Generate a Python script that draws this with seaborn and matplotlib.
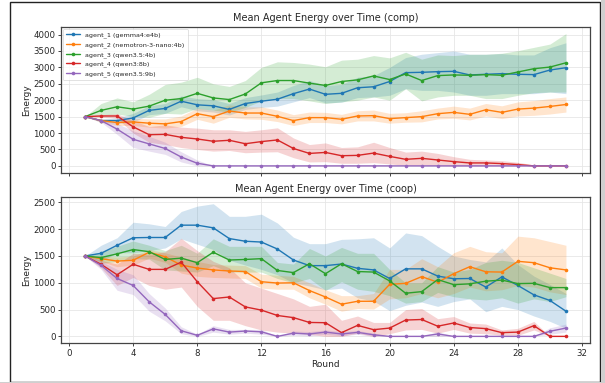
import numpy as np
import pandas as pd
import matplotlib
matplotlib.use("Agg")
import matplotlib.pyplot as plt
import seaborn as sns
from matplotlib.patches import Rectangle
from matplotlib.ticker import MultipleLocator

rounds = list(range(1, 32))
agents = ["agent_1 (gemma4:e4b)", "agent_2 (nemotron-3-nano:4b)", "agent_3 (qwen3.5:4b)",
          "agent_4 (qwen3:8b)", "agent_5 (qwen3.5:9b)"]

# ---------- comp ----------
comp_a1 = [1500,1380,1380,1460,1690,1750,1970,1860,1830,1720,1900,1970,2030,2200,2340,2180,2210,2380,2410,2570,2840,2850,2870,2880,2770,2790,2810,2790,2780,2920,2990]
comp_a1_lo = [1500,1340,1300,1330,1560,1600,1800,1680,1640,1550,1720,1780,1820,1950,2080,1920,1940,2080,2100,2150,2350,2300,2300,2250,2150,2150,2200,2200,2200,2250,2200]
comp_a1_hi = [1500,1420,1460,1600,1830,1900,2130,2050,2020,1900,2080,2160,2250,2450,2600,2450,2480,2700,2750,3000,3300,3400,3450,3500,3400,3400,3420,3380,3380,3600,3750]

comp_a2 = [1500,1380,1320,1340,1300,1280,1350,1590,1500,1670,1610,1610,1510,1380,1470,1470,1420,1520,1530,1440,1470,1500,1590,1630,1570,1710,1630,1730,1760,1810,1870]
comp_a2_lo = [1500,1330,1230,1230,1180,1150,1200,1420,1300,1480,1430,1420,1350,1230,1320,1320,1280,1370,1370,1300,1330,1340,1430,1450,1400,1520,1440,1520,1540,1580,1640]
comp_a2_hi = [1500,1430,1400,1450,1430,1430,1520,1760,1700,1860,1800,1800,1700,1560,1640,1630,1570,1680,1700,1600,1620,1680,1760,1820,1760,1900,1830,1950,1990,2050,2100]

comp_a3 = [1500,1690,1800,1730,1820,2000,2050,2210,2070,2020,2190,2530,2600,2600,2520,2450,2570,2620,2740,2630,2800,2600,2750,2770,2760,2780,2760,2860,2960,3010,3140]
comp_a3_lo = [1500,1550,1580,1500,1480,1600,1580,1750,1700,1640,1780,1980,2050,2050,1980,1900,1950,2000,2100,2000,2350,1980,2100,2150,2150,2050,2050,2150,2230,2250,2250]
comp_a3_hi = [1500,1900,2070,1950,2180,2480,2550,2700,2500,2420,2600,3000,3170,3150,3100,3020,3220,3250,3360,3290,3460,3250,3380,3360,3400,3400,3430,3510,3610,3710,4030]

comp_a4 = [1500,1520,1520,1190,950,960,870,820,750,780,675,740,790,530,380,410,310,320,390,290,200,230,180,130,90,90,70,40,0,0,0]
comp_a4_lo = [1500,1480,1450,1000,720,650,560,500,450,470,400,420,430,250,120,130,80,80,100,60,20,20,10,0,0,0,0,0,0,0,0]
comp_a4_hi = [1500,1560,1590,1380,1200,1250,1180,1150,1100,1100,1050,1100,1160,850,650,700,560,580,720,560,420,450,380,280,200,180,160,110,30,0,0]

comp_a5 = [1500,1380,1120,810,670,530,270,80] + [0] * 23
comp_a5_lo = [1500,1330,960,560,450,350,120,0] + [0] * 23
comp_a5_hi = [1500,1420,1290,1070,900,720,430,180] + [0] * 23

# ---------- coop ----------
coop_a1 = [1500,1550,1700,1840,1845,1845,2075,2075,2025,1825,1775,1760,1630,1425,1320,1320,1350,1270,1240,1080,1260,1260,1125,1075,1080,920,1110,950,775,670,470]
coop_a1_lo = [1500,1400,1560,1560,1600,1650,1820,1720,1620,1420,1330,1250,1150,1000,940,870,900,720,660,480,580,640,560,650,700,460,560,500,380,280,150]
coop_a1_hi = [1500,1700,1840,2130,2100,2050,2330,2430,2475,2240,2240,2280,2115,1850,1730,1730,1810,1820,1840,1650,1930,1880,1680,1500,1435,1390,1650,1340,1125,970,800]

coop_a2 = [1500,1450,1405,1420,1570,1485,1330,1275,1240,1220,1210,1020,995,1000,855,735,600,655,655,970,990,1115,1010,1170,1300,1205,1200,1400,1375,1280,1240]
coop_a2_lo = [1500,1400,1300,1330,1460,1380,1180,1120,1100,1090,1080,900,880,880,720,600,470,520,510,700,720,800,720,800,920,850,870,950,920,830,780]
coop_a2_hi = [1500,1500,1480,1500,1620,1560,1480,1400,1340,1330,1320,1160,1140,1120,1000,870,760,760,800,1250,1250,1450,1300,1560,1680,1580,1560,1870,1840,1770,1700]

coop_a3 = [1500,1470,1540,1620,1580,1435,1460,1375,1570,1425,1435,1450,1230,1190,1355,1170,1355,1210,1200,1035,805,835,1060,965,980,1030,1050,985,990,910,910]
coop_a3_lo = [1500,1360,1400,1450,1440,1240,1220,1200,1320,1200,1200,1200,1080,1000,1080,860,1020,880,840,760,620,650,820,740,700,680,720,620,700,650,740]
coop_a3_hi = [1500,1580,1680,1780,1700,1600,1700,1550,1820,1680,1680,1680,1380,1350,1640,1500,1660,1550,1550,1250,1000,1000,1300,1200,1250,1380,1420,1380,1280,1180,1080]

coop_a4 = [1500,1345,1150,1345,1250,1250,1385,1020,705,735,550,490,390,350,260,255,70,205,125,155,305,315,190,250,165,145,70,80,200,0,0]
coop_a4_lo = [1500,1280,950,1100,950,880,920,560,300,300,200,120,80,60,40,0,0,60,0,50,120,130,60,130,60,50,20,20,120,0,0]
coop_a4_hi = [1500,1420,1350,1550,1530,1580,1830,1600,1400,1280,1000,900,800,700,560,600,300,380,260,260,500,520,330,370,250,230,120,150,280,0,0]

coop_a5 = [1500,1325,1080,950,645,410,105,20,140,80,100,85,0,60,45,80,45,75,30,0,0,0,45,0,0,0,0,0,0,95,155]
coop_a5_lo = [1500,1250,860,780,470,290,50,0,80,40,60,40,0,20,10,40,10,40,0,0,0,0,0,0,0,0,0,0,0,40,80]
coop_a5_hi = [1500,1400,1250,1150,800,530,180,40,200,130,130,130,0,100,90,120,90,110,60,0,0,0,90,0,0,0,0,0,0,160,230]

comp = [(comp_a1, comp_a1_lo, comp_a1_hi), (comp_a2, comp_a2_lo, comp_a2_hi),
        (comp_a3, comp_a3_lo, comp_a3_hi), (comp_a4, comp_a4_lo, comp_a4_hi),
        (comp_a5, comp_a5_lo, comp_a5_hi)]
coop = [(coop_a1, coop_a1_lo, coop_a1_hi), (coop_a2, coop_a2_lo, coop_a2_hi),
        (coop_a3, coop_a3_lo, coop_a3_hi), (coop_a4, coop_a4_lo, coop_a4_hi),
        (coop_a5, coop_a5_lo, coop_a5_hi)]

sns.set_theme(style="ticks")
plt.rcParams['font.family'] = ['DejaVu Sans']

palette = sns.color_palette("tab10", 5)

fig = plt.figure(figsize=(6.05, 3.83), dpi=100)
ax1 = fig.add_axes([0.1008, 0.5496, 0.8744, 0.380])
ax2 = fig.add_axes([0.1008, 0.1044, 0.8744, 0.381], sharex=ax1)


def draw(ax, data, title, legend):
    rows = []
    for name, (m, lo, hi) in zip(agents, data):
        for r, v in zip(rounds, m):
            rows.append({"Round": r, "Energy": v, "Agent": name})
    df = pd.DataFrame(rows)
    sns.lineplot(data=df, x="Round", y="Energy", hue="Agent", palette=palette,
                 marker="o", markersize=2.6, markeredgewidth=0, linewidth=1.0,
                 errorbar=None, ax=ax, legend=legend)
    for c, (m, lo, hi) in zip(palette, data):
        ax.fill_between(rounds, lo, hi, color=c, alpha=0.2, linewidth=0)
    ax.set_title(title, fontsize=7, pad=4)
    ax.set_ylabel("Energy", fontsize=6.5, labelpad=2)
    ax.grid(True, color="#e6e6e6", linewidth=0.6)
    ax.set_axisbelow(True)
    for s in ax.spines.values():
        s.set_color("#444444")
        s.set_linewidth(0.9)
    ax.tick_params(labelsize=6.2, length=2.5, width=0.7, color="#444444", pad=1.5)


draw(ax1, comp, "Mean Agent Energy over Time (comp)", True)
draw(ax2, coop, "Mean Agent Energy over Time (coop)", False)

leg = ax1.legend(loc="upper left", fontsize=4.6, frameon=True, handlelength=2.2,
                 borderpad=0.5, labelspacing=0.55, borderaxespad=0.3)
leg.get_frame().set_linewidth(0.5)
leg.get_frame().set_edgecolor("#cccccc")
for h in leg.legend_handles:
    h.set_linewidth(1.0)
    h.set_markersize(2.6)

ax1.set_xlabel("")
ax1.tick_params(labelbottom=False)
ax2.set_xlabel("Round", fontsize=6.5, labelpad=1.5)
ax2.xaxis.set_major_locator(MultipleLocator(4))
ax1.yaxis.set_major_locator(MultipleLocator(500))
ax2.yaxis.set_major_locator(MultipleLocator(500))
ax1.set_xlim(-0.5, 32.5)

# figure frame
W, H = 605, 383
fig.patches.append(Rectangle((10 / W, 1.5 / H), 590 / W, 380 / H, transform=fig.transFigure,
                             fill=False, edgecolor="#222222", linewidth=1.0))
fig.patches.append(Rectangle((601 / W, 0), 4 / W, 1, transform=fig.transFigure,
                             fill=True, facecolor="#cfcfcf", edgecolor="none"))
fig.patches.append(Rectangle((0, 0), 1, 1.2 / H, transform=fig.transFigure,
                             fill=True, facecolor="#cfcfcf", edgecolor="none"))

fig.savefig("out.png", dpi=100)
